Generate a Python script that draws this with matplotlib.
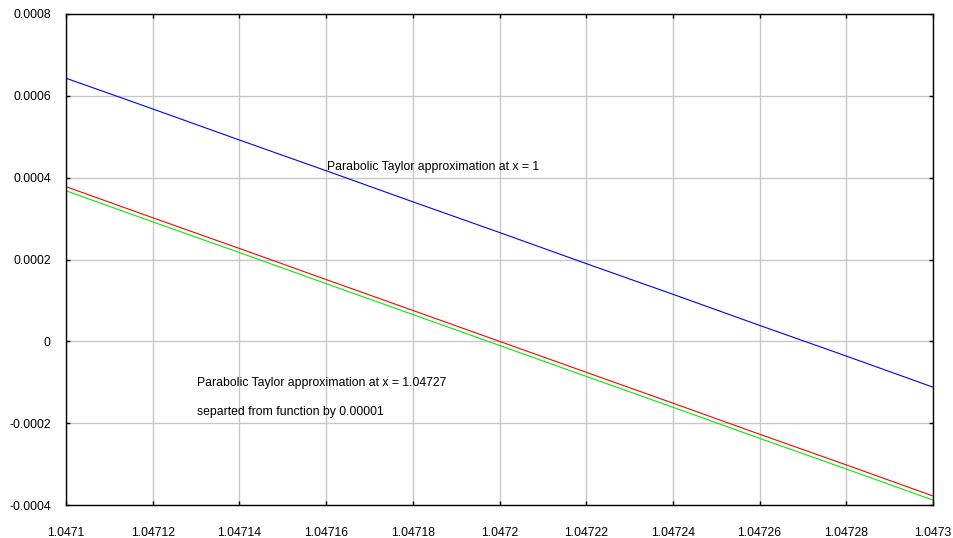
import matplotlib.pyplot as plt

plt.rcParams['font.family'] = ['Liberation Sans', 'DejaVu Sans']

x_ticks = [1.0471, 1.04712, 1.04714, 1.04716, 1.04718, 1.0472,
           1.04722, 1.04724, 1.04726, 1.04728, 1.0473]
x_labels = ["1.0471", "1.04712", "1.04714", "1.04716", "1.04718", "1.0472",
            "1.04722", "1.04724", "1.04726", "1.04728", "1.0473"]
y_ticks = [-0.0004, -0.0002, 0, 0.0002, 0.0004, 0.0006, 0.0008]
y_labels = ["-0.0004", "-0.0002", "0", "0.0002", "0.0004", "0.0006", "0.0008"]

# values read at each x grid line
taylor_x1 = [0.000643, 0.000568, 0.000492, 0.000417, 0.000341, 0.000266,
             0.000190, 0.000115, 0.000039, -0.000036, -0.000112]
function_vals = [0.000378, 0.000302, 0.000227, 0.000151, 0.0000756, 0.0,
                 -0.0000756, -0.000151, -0.000227, -0.000302, -0.000378]
taylor_x2 = [0.000368, 0.000292, 0.000217, 0.000141, 0.0000656, -0.00001,
             -0.0000856, -0.000161, -0.000237, -0.000312, -0.000388]

fig = plt.figure(figsize=(9.54, 5.38), dpi=100)
ax = fig.add_axes([0.0692, 0.0613, 0.9088, 0.9127])

ax.plot(x_ticks, taylor_x1, color='#0000ff', lw=0.8)
ax.plot(x_ticks, function_vals, color='#ff0000', lw=0.8)
ax.plot(x_ticks, taylor_x2, color='#00ee00', lw=0.8)

fs = 8.8
ax.text(1.0471603, 0.000426, "Parabolic Taylor approximation at x = 1",
        fontsize=fs, va='center', ha='left')
ax.text(1.0471303, -0.000102, "Parabolic Taylor approximation at x = 1.04727",
        fontsize=fs, va='center', ha='left')
ax.text(1.0471303, -0.000173, "separted from function by 0.00001",
        fontsize=fs, va='center', ha='left')

ax.set_xlim(1.0471, 1.0473)
ax.set_ylim(-0.0004, 0.0008)
ax.set_xticks(x_ticks)
ax.set_xticklabels(x_labels)
ax.set_yticks(y_ticks)
ax.set_yticklabels(y_labels)
ax.grid(True, color='#c8c8c8', lw=1)
ax.set_axisbelow(True)
ax.tick_params(axis='both', direction='in', length=3, width=1, labelsize=fs,
               top=True, right=True)
ax.tick_params(axis='x', pad=15.5)
ax.tick_params(axis='y', pad=11)
for s in ax.spines.values():
    s.set_linewidth(1)
    s.set_color('black')

plt.savefig("out.png", dpi=100)
